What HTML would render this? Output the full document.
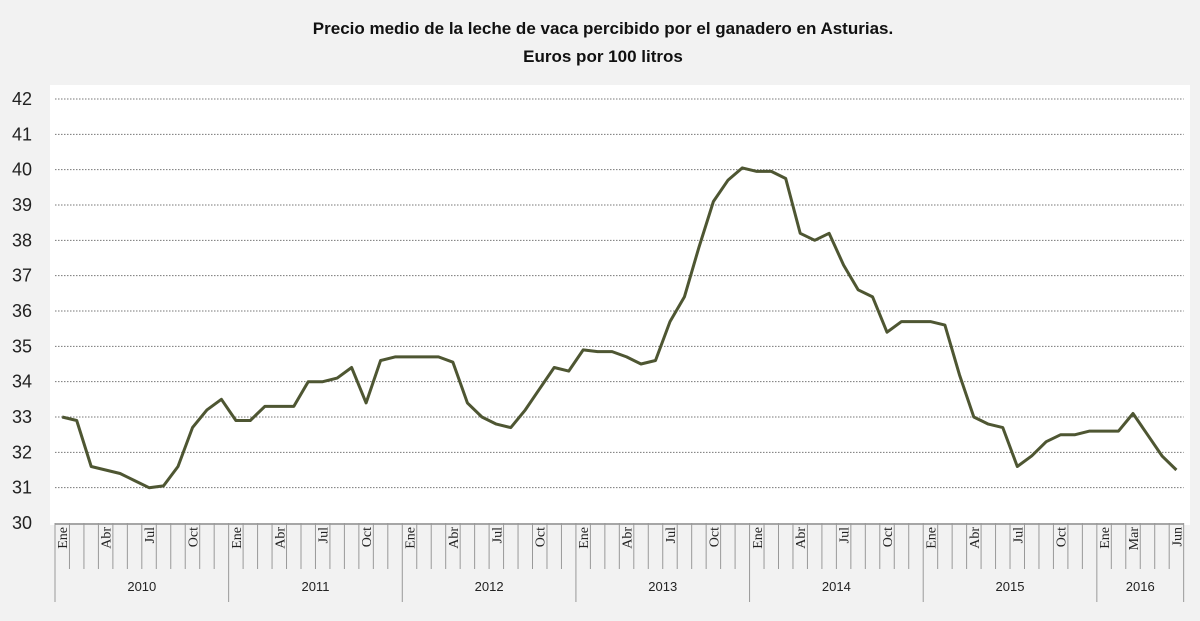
<!DOCTYPE html>
<html><head><meta charset="utf-8"><style>
html,body{margin:0;padding:0;background:#f2f2f2;}
svg{display:block;font-family:"Liberation Sans",sans-serif;}
</style></head><body>
<svg id="c" width="1200" height="621" viewBox="0 0 1200 621">
<rect x="0" y="0" width="1200" height="621" fill="#f2f2f2"/>
<rect x="50" y="85" width="1140" height="440" fill="#ffffff"/>
<text x="603" y="34" text-anchor="middle" font-size="17" font-weight="bold" fill="#111">Precio medio de la leche de vaca percibido por el ganadero  en Asturias.</text>
<text x="603" y="62" text-anchor="middle" font-size="17" font-weight="bold" fill="#111">Euros por 100 litros</text>
<g id="grid"></g><g id="yax"></g><g id="xax"></g><g id="series"></g>
</svg>
<script>
const years = ["2010","2011","2012","2013","2014","2015","2016"];
const monthLabels = ["Ene","","","Abr","","","Jul","","","Oct","",""];
const yTicks = [30,31,32,33,34,35,36,37,38,39,40,41,42];
const prices = [
33.0,32.9,31.6,31.5,31.4,31.2,31.0,31.05,31.6,32.7,33.2,33.5,
32.9,32.9,33.3,33.3,33.3,34.0,34.0,34.1,34.4,33.4,34.6,34.7,
34.7,34.7,34.7,34.55,33.4,33.0,32.8,32.7,33.2,33.8,34.4,34.3,
34.9,34.85,34.85,34.7,34.5,34.6,35.7,36.4,37.8,39.1,39.7,40.05,
39.95,39.95,39.75,38.2,38.0,38.2,37.3,36.6,36.4,35.4,35.7,35.7,
35.7,35.6,34.2,33.0,32.8,32.7,31.6,31.9,32.3,32.5,32.5,32.6,
32.6,32.6,33.1,32.5,31.9,31.5];
const labels2016 = ["Ene","","Mar","","","Jun"];
const NS="http://www.w3.org/2000/svg";
const L=55, step=14.47, Y0=523, Y1=99;
const n=prices.length;
function xPos(i){return L+step*(i+0.5);}
function yPos(v){return Y0-(v-30)*(Y0-Y1)/12;}
function mk(t,a,p){const e=document.createElementNS(NS,t);for(const k in a)e.setAttribute(k,a[k]);p.appendChild(e);return e;}
const grid=document.getElementById('grid'),yax=document.getElementById('yax'),xax=document.getElementById('xax'),ser=document.getElementById('series');
yTicks.forEach(v=>{
 if(v>30){const g=mk('line',{x1:L,x2:L+step*n,y1:yPos(v),y2:yPos(v),stroke:'#777','stroke-width':1,'stroke-dasharray':'1.5,1.5'},grid);
 
 }
 const t=mk('text',{x:32,y:yPos(v)+6,'text-anchor':'end','font-size':18,fill:'#222'},yax);t.textContent=v;
 
 
});
const ax=mk('line',{x1:L,x2:L+step*n,y1:Y0+1,y2:Y0+1,stroke:'#888','stroke-width':1.5},xax);


for(let i=0;i<=n;i++){
 const yb=(i%12===0||i===n)?602:569;
 const tk=mk('line',{x1:L+step*i,x2:L+step*i,y1:Y0,y2:yb,stroke:'#999','stroke-width':1},xax);
 
 
}
for(let i=0;i<n;i++){
 const lab=i>=72?labels2016[i-72]:monthLabels[i%12];
 if(!lab)continue;
 const x=xPos(i)+5,y=527;
 const t=mk('text',{x:x,y:y,transform:'rotate(-90 '+x+' '+y+')','text-anchor':'end','font-size':14,'font-family':'Liberation Serif, serif',fill:'#222'},xax);
 t.textContent=lab;
 
 
}
years.forEach((yr,k)=>{
 const s=k*12,e=Math.min(n,s+12);
 const t=mk('text',{x:L+step*(s+e)/2,y:591,'text-anchor':'middle','font-size':13,fill:'#222'},xax);
 t.textContent=yr;
 
 
});
const pts=prices.map((v,i)=>xPos(i).toFixed(1)+','+yPos(v).toFixed(1)).join(' ');
const pl=mk('polyline',{points:pts,fill:'none',stroke:'#4e5632','stroke-width':3,'stroke-linejoin':'round'},ser);


</script>
</body></html>
